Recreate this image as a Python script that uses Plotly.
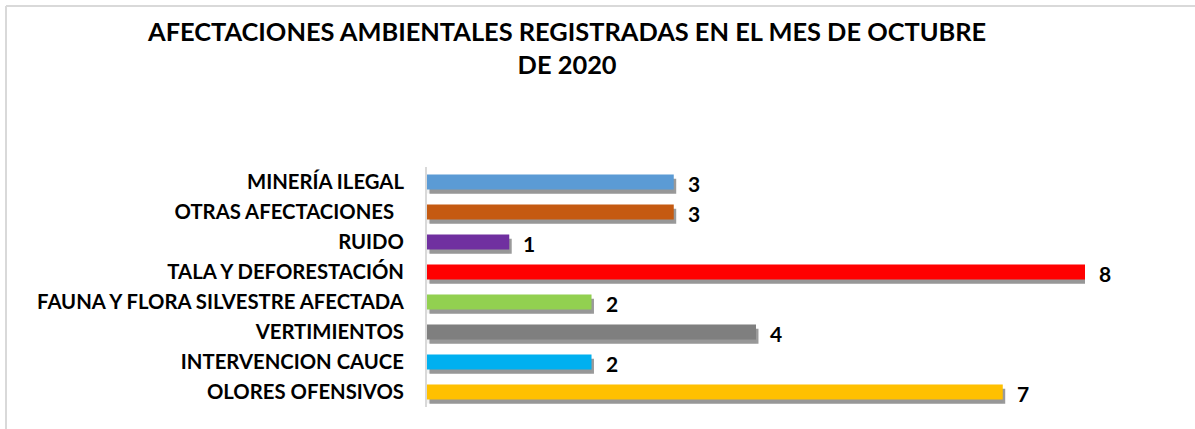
import plotly.graph_objects as go

categories = ["OLORES OFENSIVOS", "INTERVENCION CAUCE", "VERTIMIENTOS",
              "FAUNA Y FLORA SILVESTRE AFECTADA", "TALA Y DEFORESTACIÓN",
              "RUIDO", "OTRAS AFECTACIONES\u00a0\u00a0", "MINERÍA ILEGAL"]
values = [7, 2, 4, 2, 8, 1, 3, 3]
colors = ["#FFC000", "#00B0F0", "#7F7F7F", "#92D050", "#FF0000",
          "#7030A0", "#C55A11", "#5B9BD5"]
title_text = "AFECTACIONES AMBIENTALES REGISTRADAS EN EL MES DE OCTUBRE<br>DE 2020"
caption_text = "Gráfico No. 10"

FONT = "Lato"
W, H = 1195, 429
L, R = 427, 1085
T, B = 167, 407

pos = list(range(len(categories)))

def px_x(p):
    return (p - L) / (R - L)

def px_y(p):
    return (B - p) / (B - T)

fig = go.Figure()
# soft halo
fig.add_trace(go.Bar(y=pos, x=values, orientation="h", base=0.0, width=0.62,
                     offset=-0.38, marker=dict(color="rgba(0,0,0,0.05)", line=dict(width=0)),
                     hoverinfo="skip", showlegend=False))
# shadow
fig.add_trace(go.Bar(y=pos, x=values, orientation="h", base=0.03, width=0.5,
                     offset=-0.39, marker=dict(color="rgba(120,120,120,0.75)", line=dict(width=0)),
                     hoverinfo="skip", showlegend=False))
# main bars
fig.add_trace(go.Bar(y=pos, x=values, orientation="h", width=0.5, offset=-0.25,
                     marker=dict(color=colors, line=dict(width=0)), showlegend=False))

for p, v in zip(pos, values):
    fig.add_annotation(x=v, y=p, xref="x", yref="y", text=f"<b>{v}</b>",
                       showarrow=False, xanchor="left", xshift=12, yshift=-1,
                       font=dict(family=FONT, size=21, color="black"))

fig.add_annotation(x=px_x(566), y=px_y(47), xref="paper", yref="paper",
                   text=f"<b>{title_text}</b>", showarrow=False, xanchor="center",
                   yanchor="middle", font=dict(family=FONT, size=25.4, color="black"),
                   align="center")
fig.add_annotation(x=px_x(581), y=px_y(-6), xref="paper", yref="paper",
                   text=f"<b>{caption_text}</b>", showarrow=False, xanchor="center",
                   yanchor="middle", font=dict(family=FONT, size=17, color="black"))

fig.add_shape(type="line", xref="paper", yref="paper", x0=px_x(6), x1=px_x(1200),
              y0=px_y(6), y1=px_y(6), line=dict(color="#D9D9D9", width=2))
fig.add_shape(type="line", xref="paper", yref="paper", x0=px_x(6), x1=px_x(6),
              y0=px_y(6), y1=px_y(440), line=dict(color="#D9D9D9", width=2))

fig.update_layout(
    width=W, height=H, barmode="overlay",
    margin=dict(l=L, r=W - R, t=T, b=H - B, pad=0),
    paper_bgcolor="white", plot_bgcolor="white",
    xaxis=dict(range=[0, 8], showgrid=False, zeroline=False, showticklabels=False,
               showline=False, fixedrange=True),
    yaxis=dict(range=[-0.5, 7.5], tickvals=pos, ticktext=[f"<b>{c}</b>" for c in categories],
               showgrid=False, zeroline=False, showline=True, linecolor="#D9D9D9",
               linewidth=2, ticks="", ticklabelstandoff=17, fixedrange=True,
               tickfont=dict(family=FONT, size=20.3, color="black")),
    font=dict(family=FONT),
)

fig.write_html("out.html", config={"displayModeBar": False},
               post_script="document.body.style.margin='0';document.body.style.overflow='hidden';")
